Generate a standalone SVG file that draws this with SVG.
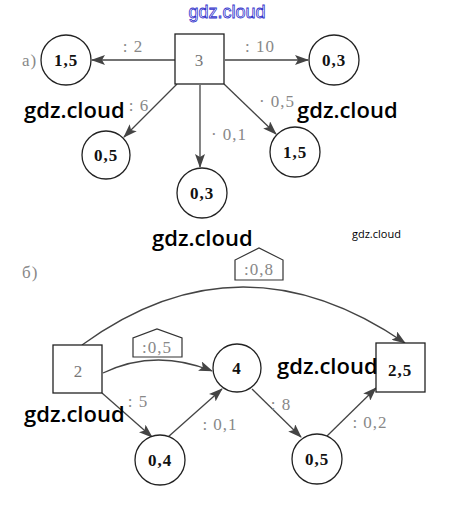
<svg xmlns="http://www.w3.org/2000/svg" width="453" height="509" viewBox="0 0 453 509">
<style>
.n{fill:#fff;stroke:#222;stroke-width:1.3}
.v{font-family:"Liberation Serif",serif;font-size:17px;font-weight:bold;fill:#111;text-anchor:middle;letter-spacing:1px}
.s{font-family:"Liberation Serif",serif;font-size:17px;fill:#777;text-anchor:middle}
.l{font-family:"Liberation Serif",serif;font-size:17px;fill:#888;text-anchor:middle;letter-spacing:1px}
.c{fill:none;stroke:#444;stroke-width:1.3;marker-end:url(#a)}
.w{font-family:"Open Sans","Noto Sans",sans-serif;font-size:22px;font-weight:600;fill:#000}
</style>
<defs>
<marker id="a" markerWidth="14" markerHeight="10" refX="13" refY="5" orient="auto" markerUnits="userSpaceOnUse">
<path d="M0,0 L14,5 L0,10 L3,5 Z" fill="#444"/>
</marker>
</defs>
<rect width="453" height="509" fill="#fff"/>
<text x="227" y="18" font-family="Liberation Sans,sans-serif" font-size="18" fill="#fff" stroke="#3333cc" stroke-width="0.8" text-anchor="middle">gdz.cloud</text>
<text x="22" y="66" class="l" style="text-anchor:start">а)</text>
<text x="22" y="278" class="l" style="text-anchor:start">б)</text>
<g id="connectors">
<line class="c" x1="175" y1="60" x2="92" y2="60"/>
<line class="c" x1="225" y1="60" x2="308" y2="60"/>
<line class="c" x1="177" y1="84" x2="124" y2="137"/>
<line class="c" x1="200" y1="85" x2="200" y2="167"/>
<line class="c" x1="224" y1="84" x2="276" y2="134"/>
<path class="c" d="M82,345 Q240,230 405,343"/>
<path class="c" d="M103,373 Q155,348 212,371"/>
<line class="c" x1="102" y1="393" x2="152" y2="437"/>
<line class="c" x1="168" y1="437" x2="222" y2="389"/>
<line class="c" x1="252" y1="389" x2="301" y2="437"/>
<line class="c" x1="327" y1="436" x2="376" y2="388"/>
<text x="133" y="52" class="l">: 2</text>
<text x="260" y="52" class="l">: 10</text>
<text x="139" y="111" class="l">: 6</text>
<text x="229" y="140" class="l">· 0,1</text>
<text x="277" y="107" class="l">· 0,5</text>
<text x="138" y="407" class="l">: 5</text>
<text x="220" y="430" class="l">: 0,1</text>
<text x="281" y="410" class="l">: 8</text>
<text x="370" y="428" class="l">: 0,2</text>
<path d="M235,280 L235,260 L259,248 L283,260 L283,280 Z" fill="#fff" stroke="#333" stroke-width="1.2"/>
<text x="259" y="275" class="l">:0,8</text>
<path d="M133,357 L133,338 L157,329 L182,338 L182,357 Z" fill="#fff" stroke="#333" stroke-width="1.2"/>
<text x="157" y="353" class="l">:0,5</text>
</g>
<g id="n3"><rect class="n" x="175" y="34" width="49" height="50"/><text x="199" y="66" class="s">3</text></g>
<g id="nL"><circle class="n" cx="66" cy="60" r="25"/><text x="66" y="66" class="v">1,5</text></g>
<g id="nR"><circle class="n" cx="334" cy="60" r="25"/><text x="334" y="66" class="v">0,3</text></g>
<g id="nBL"><circle class="n" cx="106" cy="155" r="24"/><text x="106" y="161" class="v">0,5</text></g>
<g id="nB"><circle class="n" cx="202" cy="193" r="25"/><text x="202" y="199" class="v">0,3</text></g>
<g id="nBR"><circle class="n" cx="295" cy="152" r="25"/><text x="295" y="158" class="v">1,5</text></g>
<g id="n2"><rect class="n" x="53" y="345" width="49" height="48"/><text x="78" y="377" class="s">2</text></g>
<g id="n25"><rect class="n" x="376" y="343" width="49" height="49"/><text x="400" y="376" class="v">2,5</text></g>
<g id="n4"><circle class="n" cx="237" cy="368" r="24"/><text x="237" y="374" class="v">4</text></g>
<g id="n04"><circle class="n" cx="160" cy="460" r="25"/><text x="160" y="466" class="v">0,4</text></g>
<g id="n05"><circle class="n" cx="317" cy="459" r="25"/><text x="317" y="465" class="v">0,5</text></g>
<text x="24" y="118" class="w">gdz.cloud</text>
<text x="297" y="118" class="w">gdz.cloud</text>
<text x="152" y="246" class="w">gdz.cloud</text>
<text x="352" y="238" class="w" style="font-size:11px;font-weight:normal">gdz.cloud</text>
<text x="277" y="374" class="w">gdz.cloud</text>
<text x="24" y="422" class="w">gdz.cloud</text>
</svg>
